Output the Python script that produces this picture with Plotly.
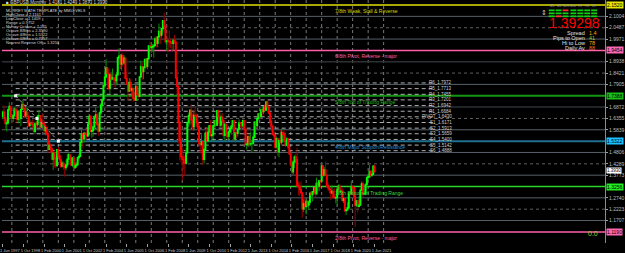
import plotly.graph_objects as go
import pandas as pd
import numpy as np

# ---------------- DATA ----------------
first_month = "1997-06-01"
n_months = 289

opens = [
 1.644,1.664,1.638,1.612,1.615,1.675,1.690,
 1.645,1.636,1.648,1.679,1.672,1.633,1.667,1.636,1.677,1.700,1.680,1.648,
 1.664,1.645,1.604,1.613,1.611,1.607,1.577,1.613,1.607,1.646,1.648,1.597,
 1.615,1.612,1.580,1.594,1.565,1.495,1.513,1.497,1.451,1.477,1.454,1.421,
 1.494,1.465,1.447,1.419,1.432,1.418,1.412,1.424,1.450,1.470,1.455,1.423,
 1.455,1.412,1.420,1.425,1.457,1.463,1.526,1.565,1.543,1.569,1.563,1.556,
 1.610,1.645,1.577,1.580,1.597,1.642,1.652,1.609,1.578,1.661,1.696,1.720,
 1.785,1.825,1.866,1.841,1.773,1.834,1.815,1.821,1.812,1.807,1.834,1.912,
 1.919,1.883,1.921,1.889,1.910,1.818,1.792,1.760,1.800,1.765,1.771,1.727,
 1.719,1.780,1.743,1.736,1.825,1.872,1.849,1.868,1.904,1.873,1.908,1.966,
 1.959,1.961,1.963,1.968,1.998,1.978,2.007,2.032,2.015,2.045,2.081,2.056,
 1.985,1.989,1.986,1.985,1.980,1.978,1.991,1.984,1.820,1.782,1.617,1.536,
 1.462,1.449,1.432,1.432,1.479,1.617,1.648,1.672,1.628,1.598,1.650,1.647,
 1.616,1.598,1.522,1.518,1.530,1.449,1.495,1.569,1.534,1.573,1.603,1.557,
 1.561,1.603,1.626,1.605,1.671,1.645,1.605,1.642,1.627,1.559,1.608,1.569,
 1.554,1.575,1.590,1.600,1.625,1.541,1.570,1.568,1.587,1.615,1.613,1.602,
 1.625,1.586,1.517,1.519,1.553,1.519,1.521,1.521,1.550,1.619,1.603,1.636,
 1.656,1.644,1.674,1.667,1.688,1.674,1.711,1.688,1.660,1.622,1.600,1.564,
 1.558,1.505,1.544,1.483,1.535,1.528,1.572,1.562,1.535,1.513,1.542,1.505,
 1.474,1.425,1.392,1.437,1.461,1.448,1.331,1.324,1.313,1.297,1.224,1.248,
 1.234,1.258,1.241,1.255,1.295,1.289,1.302,1.320,1.293,1.340,1.328,1.352,
 1.350,1.419,1.378,1.402,1.376,1.330,1.320,1.312,1.297,1.303,1.277,1.274,
 1.275,1.311,1.327,1.303,1.304,1.263,1.270,1.216,1.219,1.229,1.294,1.293,
 1.326,1.320,1.282,1.241,1.260,1.235,1.241,1.309,1.337,1.292,1.294,1.335,
 1.367,1.370,1.393,1.378,1.381,1.418]

highs = [
 1.672,1.695,1.642,1.629,1.680,1.710,1.693,
 1.654,1.657,1.687,1.686,1.680,1.674,1.669,1.680,1.718,1.717,1.686,1.688,
 1.667,1.649,1.631,1.626,1.631,1.620,1.615,1.624,1.652,1.675,1.650,1.633,
 1.659,1.627,1.607,1.603,1.576,1.528,1.523,1.507,1.482,1.485,1.462,1.497,
 1.505,1.482,1.465,1.443,1.440,1.428,1.445,1.474,1.480,1.475,1.466,1.460,
 1.457,1.436,1.438,1.462,1.472,1.531,1.585,1.568,1.575,1.572,1.588,1.613,
 1.656,1.651,1.615,1.606,1.650,1.686,1.664,1.616,1.664,1.706,1.729,1.787,
 1.860,1.905,1.869,1.862,1.836,1.849,1.863,1.844,1.820,1.848,1.914,1.955,
 1.922,1.931,1.934,1.923,1.911,1.847,1.794,1.820,1.816,1.786,1.778,1.757,
 1.793,1.787,1.765,1.829,1.899,1.889,1.873,1.906,1.910,1.909,1.970,1.985,
 1.983,1.975,1.972,2.008,2.010,2.008,2.068,2.033,2.047,2.084,2.116,2.058,
 1.996,1.996,2.036,1.999,1.988,1.998,2.016,1.987,1.859,1.786,1.642,1.553,
 1.504,1.475,1.466,1.503,1.620,1.662,1.679,1.700,1.658,1.670,1.690,1.658,
 1.639,1.606,1.528,1.560,1.534,1.504,1.577,1.592,1.588,1.605,1.628,1.582,
 1.604,1.628,1.636,1.674,1.675,1.647,1.658,1.660,1.631,1.618,1.612,1.577,
 1.581,1.596,1.605,1.628,1.629,1.573,1.575,1.589,1.631,1.619,1.614,1.631,
 1.630,1.587,1.528,1.559,1.561,1.575,1.538,1.571,1.623,1.625,1.638,1.660,
 1.668,1.680,1.677,1.690,1.700,1.713,1.717,1.690,1.665,1.628,1.603,1.578,
 1.563,1.553,1.545,1.546,1.582,1.589,1.574,1.582,1.561,1.551,1.545,1.513,
 1.476,1.447,1.445,1.468,1.476,1.502,1.348,1.342,1.350,1.300,1.267,1.273,
 1.267,1.265,1.262,1.297,1.305,1.304,1.321,1.322,1.366,1.345,1.354,1.355,
 1.434,1.424,1.415,1.438,1.380,1.345,1.328,1.314,1.330,1.317,1.317,1.284,
 1.322,1.335,1.338,1.318,1.318,1.276,1.272,1.227,1.253,1.301,1.300,1.352,
 1.330,1.322,1.320,1.265,1.264,1.281,1.316,1.348,1.348,1.318,1.339,1.368,
 1.375,1.424,1.401,1.401,1.423,1.425]

lows = [
 1.632,1.620,1.587,1.576,1.606,1.666,1.635,
 1.612,1.620,1.640,1.656,1.613,1.614,1.621,1.601,1.673,1.673,1.636,1.640,
 1.636,1.596,1.597,1.599,1.594,1.567,1.564,1.592,1.598,1.625,1.594,1.590,
 1.609,1.568,1.559,1.558,1.479,1.492,1.480,1.446,1.400,1.412,1.408,1.416,
 1.453,1.434,1.410,1.412,1.402,1.370,1.399,1.415,1.433,1.430,1.420,1.414,
 1.405,1.407,1.410,1.419,1.444,1.460,1.525,1.500,1.525,1.535,1.539,1.551,
 1.593,1.572,1.548,1.553,1.582,1.632,1.600,1.555,1.578,1.652,1.671,1.718,
 1.773,1.818,1.780,1.764,1.748,1.807,1.812,1.780,1.776,1.786,1.829,1.904,
 1.863,1.854,1.873,1.878,1.813,1.788,1.717,1.758,1.756,1.743,1.712,1.715,
 1.716,1.736,1.726,1.735,1.823,1.810,1.814,1.861,1.863,1.859,1.900,1.947,
 1.935,1.939,1.912,1.963,1.958,1.960,2.005,1.974,2.004,2.026,2.036,1.975,
 1.942,1.937,1.962,1.955,1.940,1.943,1.975,1.818,1.745,1.521,1.445,1.437,
 1.352,1.403,1.373,1.425,1.476,1.597,1.604,1.609,1.582,1.580,1.621,1.595,
 1.584,1.508,1.476,1.508,1.423,1.430,1.493,1.532,1.530,1.555,1.553,1.530,
 1.540,1.596,1.596,1.603,1.617,1.596,1.595,1.618,1.543,1.532,1.545,1.536,
 1.538,1.568,1.562,1.587,1.536,1.530,1.546,1.553,1.584,1.591,1.583,1.598,
 1.568,1.510,1.494,1.504,1.504,1.509,1.479,1.519,1.547,1.586,1.592,1.627,
 1.628,1.638,1.647,1.655,1.673,1.671,1.684,1.655,1.605,1.585,1.558,1.544,
 1.496,1.503,1.463,1.458,1.517,1.517,1.540,1.532,1.506,1.510,1.496,1.470,
 1.415,1.380,1.379,1.410,1.430,1.323,1.285,1.282,1.294,1.184,1.210,1.221,
 1.198,1.232,1.218,1.241,1.280,1.258,1.293,1.275,1.286,1.304,1.304,1.318,
 1.348,1.371,1.371,1.375,1.320,1.306,1.296,1.265,1.292,1.270,1.272,1.249,
 1.236,1.285,1.296,1.294,1.256,1.250,1.209,1.196,1.216,1.220,1.282,1.290,
 1.285,1.278,1.141,1.232,1.207,1.230,1.240,1.305,1.276,1.286,1.285,1.322,
 1.352,1.366,1.367,1.369,1.377,1.387]

closes = [
 1.664,1.638,1.612,1.615,1.675,1.690,1.645,
 1.636,1.648,1.679,1.672,1.633,1.667,1.636,1.677,1.700,1.680,1.648,1.664,
 1.645,1.604,1.613,1.611,1.607,1.577,1.613,1.607,1.646,1.648,1.597,1.615,
 1.612,1.580,1.594,1.565,1.495,1.513,1.497,1.451,1.477,1.454,1.421,1.494,
 1.465,1.447,1.419,1.432,1.418,1.412,1.424,1.450,1.470,1.455,1.423,1.455,
 1.412,1.420,1.425,1.457,1.463,1.526,1.565,1.543,1.569,1.563,1.556,1.610,
 1.645,1.577,1.580,1.597,1.642,1.652,1.609,1.578,1.661,1.696,1.720,1.785,
 1.825,1.866,1.841,1.773,1.834,1.815,1.821,1.812,1.807,1.834,1.912,1.919,
 1.883,1.921,1.889,1.910,1.818,1.792,1.760,1.800,1.765,1.771,1.727,1.719,
 1.780,1.743,1.736,1.825,1.872,1.849,1.868,1.904,1.873,1.908,1.966,1.959,
 1.961,1.963,1.968,1.998,1.978,2.007,2.032,2.015,2.045,2.081,2.056,1.985,
 1.989,1.986,1.985,1.980,1.978,1.991,1.984,1.820,1.782,1.617,1.536,1.462,
 1.449,1.432,1.432,1.479,1.617,1.648,1.672,1.628,1.598,1.650,1.647,1.616,
 1.598,1.522,1.518,1.530,1.449,1.495,1.569,1.534,1.573,1.603,1.557,1.561,
 1.603,1.626,1.605,1.671,1.645,1.605,1.642,1.627,1.559,1.608,1.569,1.554,
 1.575,1.590,1.600,1.625,1.541,1.570,1.568,1.587,1.615,1.613,1.602,1.625,
 1.586,1.517,1.519,1.553,1.519,1.521,1.521,1.550,1.619,1.603,1.636,1.656,
 1.644,1.674,1.667,1.688,1.674,1.711,1.688,1.660,1.622,1.600,1.564,1.558,
 1.505,1.544,1.483,1.535,1.528,1.572,1.562,1.535,1.513,1.542,1.505,1.474,
 1.425,1.392,1.437,1.461,1.448,1.331,1.324,1.313,1.297,1.224,1.248,1.234,
 1.258,1.241,1.255,1.295,1.289,1.302,1.320,1.293,1.340,1.328,1.352,1.350,
 1.419,1.378,1.402,1.376,1.330,1.320,1.312,1.297,1.303,1.277,1.274,1.275,
 1.311,1.327,1.303,1.304,1.263,1.270,1.216,1.219,1.229,1.294,1.293,1.326,
 1.320,1.282,1.241,1.260,1.235,1.241,1.309,1.337,1.292,1.294,1.335,1.367,
 1.370,1.393,1.378,1.381,1.418,1.393]

tick_dates = ["1997-06-01","1998-10-01","2000-02-01","2001-06-01","2002-10-01","2004-02-01",
              "2005-06-01","2006-10-01","2008-02-01","2009-06-01","2010-10-01","2012-02-01",
              "2013-06-01","2014-10-01","2016-02-01","2017-06-01","2018-10-01","2020-02-01","2021-06-01"]
tick_labels = ["1 Jun 1997","1 Oct 1998","1 Feb 2000","1 Jun 2001","1 Oct 2002","1 Feb 2004",
               "1 Jun 2005","1 Oct 2006","1 Feb 2008","1 Jun 2009","1 Oct 2010","1 Feb 2012",
               "1 Jun 2013","1 Oct 2014","1 Feb 2016","1 Jun 2017","1 Oct 2018","1 Feb 2020","1 Jun 2021"]
grid_years = ["%d-01-01" % y for y in range(1998, 2023)]

# Murrey math levels
mm_levels = [2.1520, 1.9454, 1.7388, 1.5322, 1.3256, 1.1190]
mm_names = ["7/8th Weak, Stall & Reverse", "6/8th Pivot, Reverse - major", "5/8th Top of Trading Range",
            "4/8th Major Support/Resistance", "3/8th Bottom of Trading Range", "2/8th Pivot, Reverse - major"]
mm_line_colors = ["#a8a800", "#ff5fa8", "#149614", "#1f6f8f", "#2bd62b", "#ff5fa8"]
mm_text_colors = ["#d8d800", "#ff5fa8", "#1eb41e", "#2a8fd0", "#3ad83a", "#ff5fa8"]
mm_box_colors = ["#e6e600", "#ff69b4", "#18c018", "#19c3ff", "#22ee22", "#ff69b4"]
mm_widths = [2, 1.5, 2, 2, 1.5, 1.5]
sub_solid = [2.1004, 1.9971, 1.7905, 1.5839, 1.4806, 1.3773, 1.2740, 1.1707]
sub_dark = [1.8938, 1.6872]
sub_dotted = [2.0487, 1.8421, 1.6355, 1.4289, 1.2223]

pivot_levels = [1.7972, 1.7713, 1.7455, 1.7201, 1.6942, 1.6684, 1.6430,
                1.6171, 1.5913, 1.5659, 1.5400, 1.5142, 1.4888]
pivot_names = ["R6", "R5", "R4", "R3", "R2", "R1", "PIVOT", "S1", "S2", "S3", "S4", "S5", "S6"]
pivot_start, pivot_end, pivot_text_x = "1998-04-01", "2025-03-01", "2026-07-01"

trend_x = ["1998-04-01", "1999-08-15", "2001-01-01"]
trend_y = [1.7388, 1.6355, 1.5322]

current_price = 1.39298
info_lines = ["MURREY MATH TEMPLATE by MMLEVELS", "HighClose = 2.1161", "LowClose = 1.1409",
              "Range = 0.9752", "Murrey Octave = 2.125", "Octave 8/8ths = 2.3590",
              "Octave 4/8ths = 1.5322", "Octave 0/8ths = 0.7057", "Nearest Reverse Off = 1.3256"]
stat_names = ["Spread", "Pips to Open", "Hi to Low", "Daily Av"]
stat_values = ["1.4", "41", "78", "88"]
stat_colors = ["#ffa500", "#9acd32", "#ffa500", "#ff6a1a"]
tf_names = ["M1", "M5", "M15", "M30", "H1", "H4", "D1"]

# ---------------- LAYOUT HELPERS ----------------
W, H = 625, 253
PW, PH = 611, 244
def px(x): return x / PW
def py(y): return 1 - y / PH

months = pd.date_range(first_month, periods=n_months, freq="MS")
assert len(opens) == len(highs) == len(lows) == len(closes) == n_months

t0 = pd.Timestamp(first_month)
px_per_day = 1.308 / 30.4375
x_left = t0 - pd.Timedelta(days=0.8 / px_per_day)
x_right = t0 + pd.Timedelta(days=(PW - 0.8) / px_per_day)
y_top, y_bot = 2.17496, 1.06837

FONT = "Liberation Sans, Arial, sans-serif"

fig = go.Figure()
o = np.array(opens); c = np.array(closes)
# wicks (dark)
fig.add_trace(go.Candlestick(
    x=months, open=opens, high=highs, low=lows, close=closes,
    increasing=dict(line=dict(color="#0b8a0b", width=1), fillcolor="#0b8a0b"),
    decreasing=dict(line=dict(color="#9a0000", width=1), fillcolor="#9a0000"),
    whiskerwidth=0, showlegend=False, hoverinfo="skip"))
# bodies (bright)
fig.add_trace(go.Candlestick(
    x=months, open=opens, high=np.maximum(o, c), low=np.minimum(o, c), close=closes,
    increasing=dict(line=dict(color="#00ff00", width=1.3), fillcolor="#00ff00"),
    decreasing=dict(line=dict(color="#ff0000", width=1.3), fillcolor="#ff0000"),
    whiskerwidth=0, showlegend=False, hoverinfo="skip"))

# trend line
fig.add_trace(go.Scatter(x=trend_x, y=trend_y, mode="lines+markers",
                         line=dict(color="#9a9a9a", width=1, dash="dot"),
                         marker=dict(symbol="square", size=3, color="#ffffff"),
                         showlegend=False, hoverinfo="skip"))

shapes = []
for d in grid_years:
    shapes.append(dict(type="line", xref="x", yref="paper", x0=d, x1=d, y0=0, y1=1,
                       line=dict(color="#7a7a7a", width=1, dash="dot"), layer="below"))
for v in sub_solid:
    shapes.append(dict(type="line", xref="paper", yref="y", x0=0, x1=1, y0=v, y1=v,
                       line=dict(color="#56606a", width=1), layer="below"))
for v in sub_dark:
    shapes.append(dict(type="line", xref="paper", yref="y", x0=0, x1=1, y0=v, y1=v,
                       line=dict(color="#2c3034", width=1.5), layer="below"))
for v in sub_dotted:
    shapes.append(dict(type="line", xref="paper", yref="y", x0=0, x1=1, y0=v, y1=v,
                       line=dict(color="#5e5e5e", width=1, dash="dot"), layer="below"))
for v in pivot_levels:
    shapes.append(dict(type="line", xref="x", yref="y", x0=pivot_start, x1=pivot_end, y0=v, y1=v,
                       line=dict(color="#b0b0b0", width=1, dash="4px,3px"), layer="below"))
for v, col, w in zip(mm_levels, mm_line_colors, mm_widths):
    shapes.append(dict(type="line", xref="paper", yref="y", x0=0, x1=1, y0=v, y1=v,
                       line=dict(color=col, width=w), layer="below"))

ann = []
# Murrey labels and right-axis boxes
for v, name, col, box in zip(mm_levels, mm_names, mm_text_colors, mm_box_colors):
    ann.append(dict(x=px(335), xref="paper", y=v, yref="y", text=name, showarrow=False,
                    xanchor="left", yanchor="top", yshift=-1,
                    font=dict(size=5, color=col, family=FONT)))
    ann.append(dict(x=1, xref="paper", y=v, yref="y", text=f"{v:.4f}", showarrow=False,
                    xanchor="left", yanchor="middle", xshift=1, borderpad=0,
                    bgcolor=box, font=dict(size=5, color="#000000", family=FONT)))
ann.append(dict(x=1, xref="paper", y=current_price, yref="y", text=f"{current_price:.4f}",
                showarrow=False, xanchor="left", yanchor="middle", xshift=1, yshift=1,
                bgcolor="#ffffff", borderpad=0, font=dict(size=4.5, color="#000000", family=FONT)))
# pivot labels
for v, name in zip(pivot_levels, pivot_names):
    ann.append(dict(x=pivot_text_x, xref="x", y=v, yref="y", text=f"{name}_{v:.4f}", showarrow=False,
                    xanchor="right", yanchor="middle", borderpad=0,
                    font=dict(size=4.5, color="#d0d0d0", family=FONT)))
# title & info block
ann.append(dict(x=px(3), xref="paper", y=py(3), yref="paper",
                text="\u25a0 GBPUSD,Monthly  1.4181 1.4249 1.3873 1.3930", showarrow=False,
                xanchor="left", yanchor="middle", borderpad=0,
                font=dict(size=4.5, color="#d8d8d8", family=FONT)))
for i, t in enumerate(info_lines):
    ann.append(dict(x=px(3), xref="paper", y=py(11 + 4 * i), yref="paper", text=t, showarrow=False,
                    xanchor="left", yanchor="middle", borderpad=0,
                    font=dict(size=4, color="#d8d8d8", family=FONT)))
# big price
ann.append(dict(x=px(604), xref="paper", y=py(23.5), yref="paper", text=f"{current_price:.5f}",
                showarrow=False, xanchor="right", yanchor="middle", borderpad=0, xshift=3,
                font=dict(size=14, color="#ff0000", family=FONT)))
for i, (n, v, col) in enumerate(zip(stat_names, stat_values, stat_colors)):
    yy = py(33.5 + 4.8 * i)
    ann.append(dict(x=px(592), xref="paper", y=yy, yref="paper", text=n, showarrow=False,
                    xanchor="right", yanchor="middle", borderpad=0,
                    font=dict(size=5.5, color="#e0e0e0", family=FONT)))
    ann.append(dict(x=px(594), xref="paper", y=yy, yref="paper", text=v, showarrow=False,
                    xanchor="left", yanchor="middle", borderpad=0,
                    font=dict(size=5.5, color=col, family=FONT)))
# timeframe table
tf_x = [554, 561, 568, 576, 583, 590, 597]
for name, xx in zip(tf_names, tf_x):
    ann.append(dict(x=px(xx + 3), xref="paper", y=py(6.5), yref="paper", text=name, showarrow=False,
                    xanchor="center", yanchor="middle", borderpad=0,
                    font=dict(size=3, color="#a0a0a0", family=FONT)))
red_cells = {(0, 2), (2, 1)}
for r, yy in enumerate([9.5, 12.5, 15.5]):
    for ci, xx in enumerate(tf_x):
        col = "#ff3030" if (r, ci) in red_cells else "#10d010"
        shapes.append(dict(type="rect", xref="paper", yref="paper", x0=px(xx), x1=px(xx + 6),
                           y0=py(yy + 1.8), y1=py(yy), fillcolor=col, line=dict(width=0)))
ann.append(dict(x=px(549), xref="paper", y=py(13), yref="paper", text="\u2195", showarrow=False,
                xanchor="center", yanchor="middle", borderpad=0,
                font=dict(size=7, color="#c8c8c8", family="DejaVu Sans")))
ann.append(dict(x=px(599), xref="paper", y=py(234), yref="paper", text="0.0", showarrow=False,
                xanchor="center", yanchor="middle", borderpad=0,
                font=dict(size=7, color="#9acd32", family=FONT)))

# right axis gray labels (main levels are shown in coloured boxes instead)
axis_ticks = sorted(sub_solid + sub_dark + sub_dotted, reverse=True)

fig.update_layout(
    width=W, height=H, margin=dict(l=0, r=W - PW, t=0, b=H - PH),
    paper_bgcolor="#000000", plot_bgcolor="#000000",
    showlegend=False, shapes=shapes, annotations=ann,
    xaxis=dict(type="date", range=[x_left, x_right], rangeslider=dict(visible=False),
               tickvals=tick_dates, ticktext=tick_labels, tickmode="array", tickangle=0,
               tickfont=dict(size=4, color="#c8c8c8", family=FONT),
               ticks="outside", ticklen=3, tickcolor="#a0a0a0", ticklabelshift=7,
               ticklabelstandoff=0, ticklabeloverflow="allow",
               showgrid=False, zeroline=False, showline=False, fixedrange=True),
    yaxis=dict(range=[y_bot, y_top], side="right", tickmode="array", tickvals=axis_ticks,
               ticktext=[f"{v:.4f}" for v in axis_ticks],
               tickfont=dict(size=5, color="#bdbdbd", family=FONT),
               ticks="outside", ticklen=2, tickcolor="#a0a0a0",
               showgrid=False, zeroline=False, showline=True, linecolor="#8a8a8a", linewidth=1),
)

fig.write_html("out.html")
